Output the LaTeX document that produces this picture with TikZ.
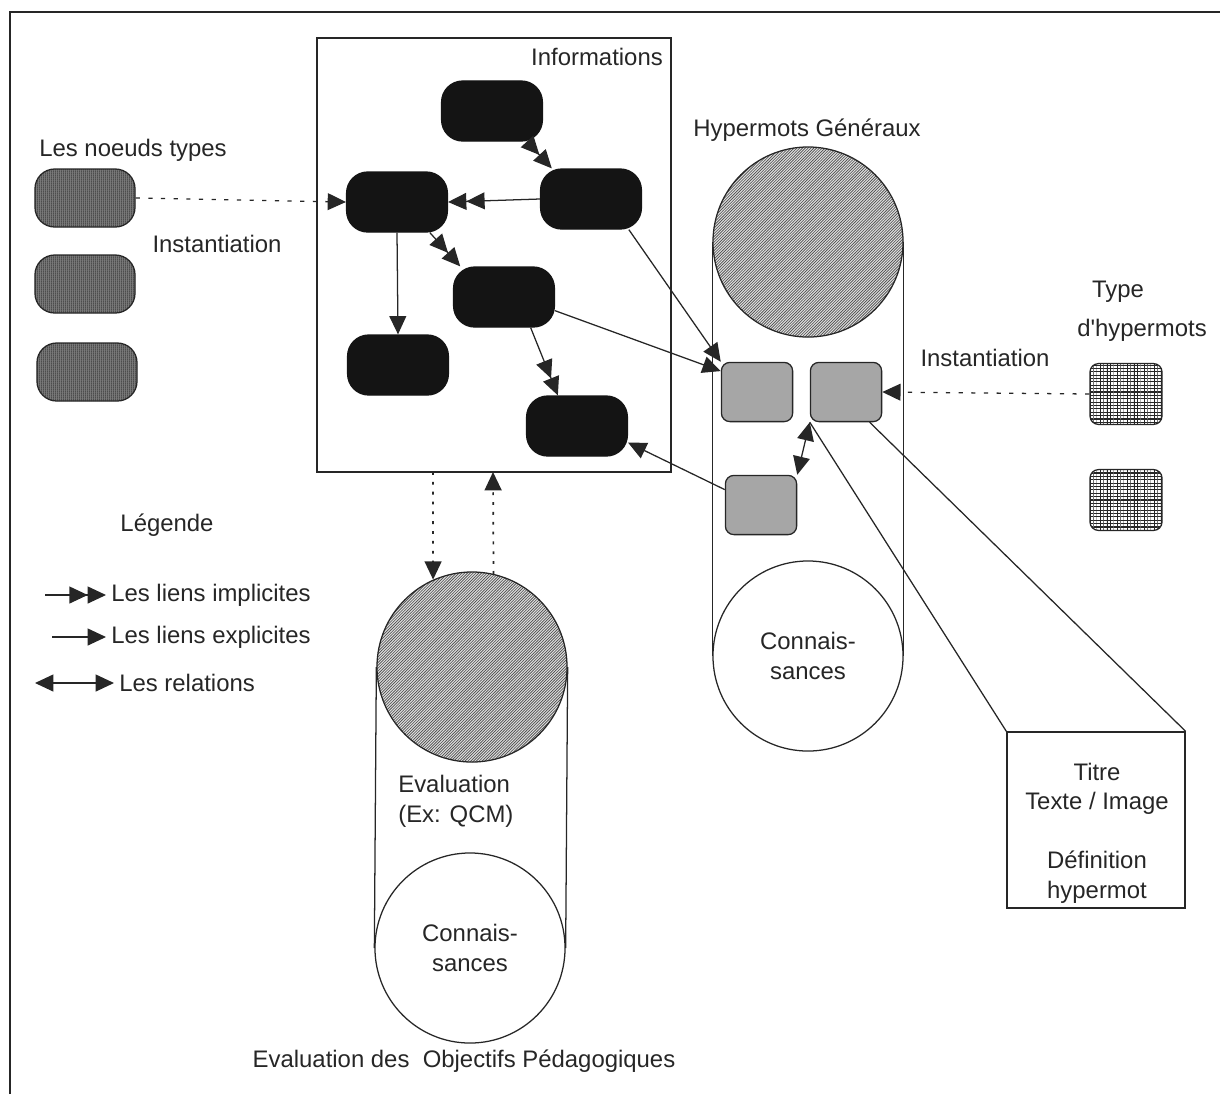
\documentclass[tikz,border=0pt]{standalone}
\usepackage{fontspec}
\setmainfont{Liberation Sans}
\newfontfamily\droit{Liberation Sans}
\usetikzlibrary{arrows.meta}
\usetikzlibrary{patterns}

\pgfdeclarepatternformonly{finvert}{\pgfqpoint{0pt}{0pt}}{\pgfqpoint{1.6pt}{1.6pt}}{\pgfqpoint{1.6pt}{1.6pt}}{%
  \pgfsetlinewidth{0.7pt}\pgfpathmoveto{\pgfqpoint{0.8pt}{0pt}}\pgfpathlineto{\pgfqpoint{0.8pt}{1.6pt}}\pgfusepath{stroke}}
\pgfdeclarepatternformonly{fingrille}{\pgfqpoint{-0.1pt}{-0.1pt}}{\pgfqpoint{2.4pt}{2.4pt}}{\pgfqpoint{2.4pt}{2.4pt}}{%
  \pgfsetlinewidth{0.75pt}\pgfpathmoveto{\pgfqpoint{0pt}{0pt}}\pgfpathlineto{\pgfqpoint{0pt}{2.4pt}}%
  \pgfpathmoveto{\pgfqpoint{0pt}{0pt}}\pgfpathlineto{\pgfqpoint{2.4pt}{0pt}}\pgfusepath{stroke}}
\pgfdeclarepatternformonly{finhach}{\pgfqpoint{-0.5pt}{-0.5pt}}{\pgfqpoint{2.5pt}{2.5pt}}{\pgfqpoint{2pt}{2pt}}{%
  \pgfsetlinewidth{0.45pt}\pgfpathmoveto{\pgfqpoint{0pt}{0pt}}\pgfpathlineto{\pgfqpoint{2.1pt}{2.1pt}}\pgfusepath{stroke}}

\begin{document}
\begin{tikzpicture}[x=0.025cm,y=-0.025cm,line width=0.9pt,draw=black!85,
    every node/.style={text=black!85,font=\fontsize{17}{21}\selectfont},
    noeud/.style={fill=black!92,draw=black!92,rounded corners=15pt,minimum width=2.52cm,minimum height=1.5cm,inner sep=0pt},
    noeudtype/.style={draw=black!85,rounded corners=14pt,minimum width=2.5cm,minimum height=1.45cm,preaction={fill=black!50},pattern=finvert,pattern color=black!80},
    hypermot/.style={fill=black!35,draw=black!85,rounded corners=6pt,minimum width=1.78cm,minimum height=1.48cm},
    hypertype/.style={draw=black!85,rounded corners=6pt,minimum width=1.8cm,minimum height=1.52cm,preaction={fill=white},pattern=fingrille,pattern color=black!85},
    boule/.style={circle,draw=black!85,minimum size=4.75cm,inner sep=0pt,align=center},
    hachure/.style={boule,preaction={fill=black!12},pattern=finhach,pattern color=black!70},
    lien/.style={-{Triangle[length=13pt,width=12pt]}},
    implicite/.style={-{Triangle[length=13pt,width=12pt]Triangle[length=13pt,width=12pt]}},
    relation/.style={{Triangle[length=13pt,width=12pt]}-{Triangle[length=13pt,width=12pt]}},
    inst/.style={-{Triangle[length=13pt,width=12pt]},dash pattern=on 3pt off 6pt},
    evalfl/.style={-{Triangle[length=13pt,width=12pt]},dash pattern=on 2pt off 5pt,line width=1.2pt}]
    \useasboundingbox (0,0) rectangle (1220,1094);
    \draw[line width=1.2pt] (10,1094) -- (10,12) -- (1220,12);

    % informations
    \node[draw,minimum width=8.85cm,minimum height=10.85cm] (info) at (494,255) {};
    \node (infotitre) at (597,57) {Informations};
    \node[noeud] (n1) at (492,111) {};
    \node[noeud] (n2) at (591,199) {};
    \node[noeud] (n3) at (397,202) {};
    \node[noeud] (n4) at (504,297) {};
    \node[noeud] (n5) at (398,365) {};
    \node[noeud] (n6) at (577,426) {};
    \draw[implicite] (n1.-41) -- (n2.142);
    \draw[implicite] (n2.west) -- (n3.east);
    \draw[implicite] (n3.-43) -- (n4.145);
    \draw[lien] (n3.south) -- (n5.north);
    \draw[implicite] (n4.-49) -- (n6.122);

    % noeuds types
    \node (nttitre) at (133,150) {Les noeuds types};
    \node[noeudtype] (t1) at (85,198) {};
    \node[noeudtype] (t2) at (85,284) {};
    \node[noeudtype] (t3) at (87,372) {};
    \node (inst1) at (217,244) {Instantiation};
    \draw[inst] (t1.east) -- (n3.west);

    % hypermots generaux
    \node (hgtitre) at (807,130) {Hypermots Généraux};
    \node[hachure] (hgtop) at (808,242) {};
    \node[boule] (hgbot) at (808,656) {Connais-\\sances};
    \draw (hgtop.west) -- (hgbot.west);
    \draw (hgtop.east) -- (hgbot.east);
    \node[hypermot] (g1) at (757,392) {};
    \node[hypermot] (g2) at (846,392) {};
    \node[hypermot] (g3) at (761,505) {};
    \draw[lien] (n2.-39) -- (g1.north west);
    \draw[lien] (n4.-15) -- (g1.150);
    \draw[lien] (g3.157) -- (n6.-18);
    \draw[relation] (g3.north east) -- (g2.south west);

    % type d'hypermots
    \node (tytitre) at (1118,292) {Type};
    \node (tytitre2) at (1142,330) {\droit d'hypermots};
    \node[hypertype] (h1) at (1126,394) {};
    \node[hypertype] (h2) at (1126,500) {};
    \node (inst2) at (985,358) {Instantiation};
    \draw[inst] (h1.west) -- (g2.east);

    % definition
    \node[draw,minimum width=4.45cm,minimum height=4.4cm] (titre) at (1096,820) {};
    \node[align=center] (titretxt) at (1097,833) {Titre\\Texte / Image\\[21pt]Définition\\hypermot};
    \draw (titre.north west) -- (g2.south west);
    \draw (titre.north east) -- (g2.-52);

    % evaluation
    \node[hachure] (evtop) at (472,667) {};
    \node[boule] (evbot) at (470,948) {Connais-\\sances};
    \draw (evtop.west) -- (evbot.west);
    \draw (evtop.east) -- (evbot.east);
    \node[align=left,anchor=north west] (evtxt) at (393,770) {Evaluation\\(Ex: QCM)};
    \coordinate (d1) at (433,472);
    \coordinate (d2) at (493,472);
    \draw[evalfl] (d1) -- (evtop.114);
    \draw[evalfl] (evtop.77) -- (d2);
    \node (obj) at (464,1061) {Evaluation des\ \ Objectifs Pédagogiques};

    % legende
    \node (leg) at (167,525) {Légende};
    \coordinate (l1) at (45,595);
    \coordinate (l2) at (52,637);
    \coordinate (l3) at (35,683);
    \node[anchor=west] (limp) at (106,595) {Les liens implicites};
    \node[anchor=west] (lexp) at (106,637) {Les liens explicites};
    \node[anchor=west] (lrel) at (114,683) {Les relations};
    \draw[implicite] (l1) -- (limp.west);
    \draw[lien] (l2) -- (lexp.west);
    \draw[relation] (l3) -- (lrel.west);
\end{tikzpicture}
\end{document}
